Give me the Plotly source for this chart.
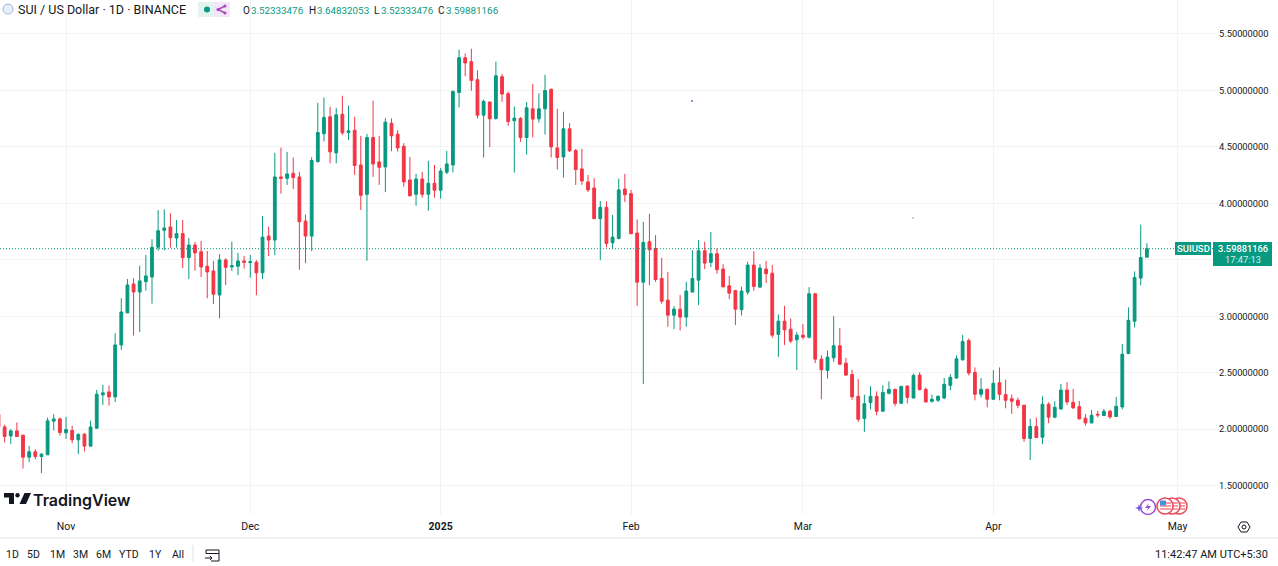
import pandas as pd
import plotly.graph_objects as go

W = 1278
H = 566

dates = pd.date_range("2024-10-21", "2025-04-26", freq="D")

open_ = [2.13,2.02,1.94,1.985,1.947,1.752,1.80,1.758,1.773,2.071,
    2.091,1.968,1.988,1.906,1.956,1.85,2.009,2.304,2.33,2.286,
    2.746,3.03,3.286,3.215,3.307,3.348,3.611,3.761,3.791,3.693,
    3.732,3.519,3.631,3.572,3.443,3.401,3.189,3.499,3.437,3.443,
    3.49,3.475,3.479,3.385,3.71,3.675,4.234,4.222,4.266,4.234,
    3.843,3.71,4.37,4.616,4.767,4.447,4.79,4.627,4.648,4.34,
    4.08,4.583,4.367,4.323,4.71,4.613,4.506,4.207,4.08,4.216,
    4.08,4.178,4.116,4.275,4.34,4.982,5.29,5.255,5.095,4.781,
    4.897,4.752,5.122,4.971,4.731,4.752,4.583,4.837,4.749,4.837,
    5.009,4.491,4.411,4.66,4.468,4.305,4.19,4.136,3.864,3.965,
    3.651,3.689,4.127,4.086,3.737,3.302,3.66,3.601,3.335,3.143,
    3.01,3.063,2.993,3.214,3.32,3.58,3.477,3.554,3.418,3.27,
    3.229,3.058,3.214,3.453,3.258,3.418,3.382,2.839,2.957,2.886,
    2.792,2.833,2.815,3.199,2.62,2.52,2.632,2.739,2.585,2.484,
    2.291,2.094,2.235,2.291,2.159,2.318,2.353,2.229,2.382,2.276,
    2.479,2.353,2.247,2.256,2.276,2.388,2.453,2.614,2.785,2.503,
    2.309,2.353,2.265,2.412,2.306,2.27,2.256,2.212,1.918,2.024,
    1.929,2.221,2.106,2.179,2.347,2.238,2.2,2.097,2.056,2.132,
    2.121,2.159,2.112,2.197,2.67,2.956,3.338,3.52333476]

high = [2.14,2.04,2.00,2.06,1.95,1.852,1.823,1.788,2.103,2.133,
    2.103,2.109,2.03,1.965,1.965,2.074,2.348,2.392,2.386,2.85,
    3.159,3.33,3.336,3.448,3.543,3.682,3.941,3.947,3.912,3.853,
    3.853,3.693,3.658,3.667,3.578,3.49,3.549,3.513,3.661,3.561,
    3.534,3.543,3.497,3.888,3.793,4.447,4.494,4.456,4.406,4.278,
    3.9,4.408,4.891,4.938,4.855,4.846,4.953,4.867,4.767,4.598,
    4.616,4.909,4.598,4.755,4.752,4.648,4.533,4.411,4.261,4.278,
    4.376,4.34,4.314,4.465,5.0,5.361,5.326,5.37,5.178,4.917,
    4.903,5.255,5.145,4.991,4.858,4.764,4.897,5.059,4.974,5.139,
    5.018,4.837,4.811,4.71,4.482,4.482,4.252,4.222,4.021,4.018,
    3.897,4.219,4.261,4.119,3.858,3.837,3.908,3.719,3.518,3.391,
    3.09,3.188,3.306,3.586,3.675,3.66,3.746,3.601,3.462,3.356,
    3.232,3.261,3.483,3.577,3.462,3.489,3.453,3.016,3.093,2.981,
    2.86,2.93,3.258,3.205,2.656,2.697,3.001,2.895,2.632,2.526,
    2.444,2.306,2.379,2.335,2.388,2.423,2.359,2.382,2.388,2.491,
    2.503,2.368,2.306,2.3,2.453,2.488,2.653,2.835,2.803,2.547,
    2.453,2.359,2.523,2.547,2.438,2.306,2.279,2.218,2.094,2.103,
    2.291,2.238,2.247,2.4,2.417,2.356,2.25,2.135,2.171,2.162,
    2.179,2.171,2.285,2.753,3.079,3.397,3.811,3.64832053]

low = [2.02,1.882,1.87,1.935,1.652,1.708,1.734,1.611,1.773,1.988,
    1.944,1.914,1.876,1.779,1.802,1.847,2.003,2.215,2.209,2.239,
    2.702,3.03,2.829,2.861,3.227,3.112,3.581,3.584,3.608,3.608,
    3.428,3.33,3.404,3.348,3.159,3.109,2.982,3.277,3.401,3.363,
    3.422,3.342,3.186,3.331,3.533,3.541,4.086,4.163,4.127,3.411,
    3.47,3.577,4.361,4.548,4.355,4.355,4.604,4.562,4.252,3.941,
    3.491,4.234,4.163,4.101,4.462,4.459,4.148,4.059,3.979,4.05,
    3.935,4.05,4.042,4.258,4.275,4.849,5.125,4.997,4.752,4.406,
    4.497,4.74,4.9,4.687,4.272,4.545,4.432,4.583,4.716,4.61,
    4.406,4.299,4.228,4.456,4.163,4.163,4.101,3.861,3.497,3.61,
    3.595,3.681,4.012,3.728,3.092,2.399,3.275,3.305,3.111,2.907,
    2.886,2.874,2.907,3.214,3.099,3.418,3.436,3.377,3.255,3.152,
    2.922,3.007,3.19,3.226,3.255,3.294,2.809,2.641,2.744,2.762,
    2.523,2.795,2.803,2.585,2.266,2.449,2.597,2.567,2.473,2.26,
    2.065,1.976,2.176,2.123,2.159,2.309,2.203,2.229,2.229,2.273,
    2.344,2.238,2.235,2.241,2.265,2.344,2.447,2.609,2.476,2.256,
    2.282,2.194,2.262,2.256,2.185,2.135,2.185,1.888,1.727,1.921,
    1.868,2.053,2.097,2.171,2.215,2.182,2.088,2.032,2.05,2.106,
    2.118,2.091,2.109,2.176,2.664,2.903,3.273,3.52333476]

close = [2.02,1.935,1.985,1.935,1.752,1.80,1.758,1.779,2.074,2.091,
    1.97,1.997,1.906,1.953,1.85,2.02,2.31,2.322,2.286,2.746,
    3.038,3.277,3.215,3.313,3.357,3.611,3.758,3.782,3.696,3.732,
    3.519,3.631,3.561,3.437,3.392,3.195,3.499,3.434,3.448,3.49,
    3.478,3.484,3.385,3.701,3.675,4.234,4.222,4.261,4.228,3.837,
    3.71,4.379,4.627,4.761,4.456,4.784,4.625,4.642,4.335,4.071,
    4.583,4.349,4.32,4.719,4.598,4.491,4.19,4.068,4.216,4.08,
    4.178,4.116,4.287,4.349,4.991,5.29,5.243,5.089,4.781,4.903,
    4.749,5.13,4.968,4.725,4.755,4.583,4.846,4.746,4.837,5.0,
    4.5,4.406,4.66,4.465,4.299,4.198,4.119,3.864,3.965,3.645,
    3.701,4.119,4.077,3.731,3.302,3.654,3.589,3.325,3.134,3.01,
    3.063,2.993,3.223,3.335,3.58,3.471,3.554,3.412,3.261,3.205,
    3.063,3.223,3.453,3.264,3.427,3.377,2.833,2.957,2.88,2.78,
    2.833,2.815,3.199,2.62,2.526,2.638,2.739,2.576,2.479,2.287,
    2.088,2.226,2.291,2.159,2.326,2.353,2.229,2.379,2.282,2.476,
    2.35,2.241,2.265,2.291,2.397,2.459,2.623,2.776,2.497,2.309,
    2.353,2.265,2.406,2.309,2.256,2.247,2.212,1.918,2.024,1.926,
    2.221,2.106,2.194,2.347,2.241,2.188,2.091,2.056,2.123,2.126,
    2.159,2.109,2.203,2.664,2.964,3.344,3.52,3.59881166]

month_ticks = ["2024-11-01", "2024-12-01", "2025-01-01", "2025-02-01", "2025-03-01", "2025-04-01", "2025-05-01"]
month_labels = ["Nov", "Dec", "<b>2025</b>", "Feb", "Mar", "Apr", "May"]
price_ticks = [1.5, 2.0, 2.5, 3.0, 3.5, 4.0, 4.5, 5.0, 5.5]
# the 3.5 label sits behind the price tag in the screenshot, only its gridline shows
price_labels = ["1.50000000", "2.00000000", "2.50000000", "3.00000000", "", "4.00000000", "4.50000000", "5.00000000", "5.50000000"]
range_buttons = ["1D", "5D", "1M", "3M", "6M", "YTD", "1Y", "All"]
button_x = [12, 33, 57, 80, 103, 129, 155, 178]

GREEN = "#089981"
RED = "#F23645"
TEXT = "#131722"
GRID = "#f2f3f5"
FONT = "Roboto"


def px(x):
    return x / W


def py(y):
    return 1 - y / H


def label(x, y, text, size=11, color=TEXT, anchor="left", weight=None, family=FONT):
    font = dict(family=family, size=size, color=color)
    if weight:
        font["weight"] = weight
    fig.add_annotation(x=px(x), y=py(y), xref="paper", yref="paper", text=text, showarrow=False,
                       xanchor=anchor, yanchor="middle", font=font, borderpad=0, borderwidth=0)


def rect(x0, y0, x1, y1, fill, line=None):
    fig.add_shape(type="rect", xref="paper", yref="paper", x0=px(x0), x1=px(x1), y0=py(y0), y1=py(y1),
                  fillcolor=fill, line=dict(width=1 if line else 0, color=line or fill))


def circle(cx, cy, r, fill="rgba(0,0,0,0)", line=None, width=1):
    fig.add_shape(type="circle", xref="paper", yref="paper", x0=px(cx - r), x1=px(cx + r), y0=py(cy - r), y1=py(cy + r),
                  fillcolor=fill, line=dict(width=width if line else 0, color=line or fill))


def poly(points, fill="rgba(0,0,0,0)", line=None, width=1, closed=True):
    d = "M" + " L".join(f"{px(a):.5f},{py(b):.5f}" for a, b in points) + (" Z" if closed else "")
    fig.add_shape(type="path", xref="paper", yref="paper", path=d, fillcolor=fill,
                  line=dict(width=width if line else 0, color=line or fill))


fig = go.Figure(go.Candlestick(x=dates, open=open_, high=high, low=low, close=close,
                               increasing=dict(line=dict(color=GREEN, width=1), fillcolor=GREEN),
                               decreasing=dict(line=dict(color=RED, width=1), fillcolor=RED),
                               showlegend=False))

fig.update_layout(width=W, height=H, margin=dict(l=0, r=0, t=0, b=0), autosize=False,
                  paper_bgcolor="white", plot_bgcolor="white", boxgap=0.35,
                  font=dict(family=FONT, color=TEXT), showlegend=False)
fig.update_xaxes(domain=[0, 1218 / W], range=["2024-10-21 06:00", "2025-05-07 14:00"],
                 rangeslider_visible=False, tickmode="array", tickvals=month_ticks, ticktext=month_labels,
                 showgrid=True, gridcolor=GRID, gridwidth=1, zeroline=False, showline=False, ticks="",
                 ticklabelstandoff=3, tickfont=dict(size=10.5, color=TEXT))
fig.update_yaxes(domain=[1 - 515 / H, 1], range=[1.24, 5.801], side="right", anchor="x",
                 tickmode="array", tickvals=price_ticks, ticktext=price_labels,
                 showgrid=True, gridcolor=GRID, gridwidth=1, zeroline=False, showline=False, ticks="",
                 tickfont=dict(size=9.3, color=TEXT))

# last price line
fig.add_shape(type="line", xref="x domain", yref="y", x0=0, x1=1, y0=close[-1], y1=close[-1],
              line=dict(color=GREEN, width=1, dash="1px,2px"))

# header
circle(8, 9, 5, fill="#e6effa", line="#9fb9e0")
label(18, 9, "SUI / US Dollar · 1D · BINANCE", size=12.5)
rect(198, 2, 230, 17, "#e3f3ef")
rect(214, 2, 230, 17, "#f3e6f6")
circle(207, 9.5, 3, fill=GREEN)
poly([(225, 6), (218, 9.5), (225, 13)], line="#ab47bc", width=1.5, closed=False)
circle(225, 6, 1.5, fill="#ab47bc")
circle(225, 13, 1.5, fill="#ab47bc")
circle(218, 9.5, 1.5, fill="#ab47bc")
for x_l, x_v, name, val in [(243, 250.5, "O", open_[-1]), (308.5, 317, "H", high[-1]),
                            (374, 381, "L", low[-1]), (438, 446, "C", close[-1])]:
    label(x_l, 10, name, size=10)
    label(x_v, 10, f"{val:.8f}", size=9.8, color=GREEN)

# price tag on the right
rect(1175, 242, 1211, 255, GREEN)
label(1193, 248.5, "SUIUSD", size=9.5, color="white", anchor="center", weight=500)
rect(1213, 242, 1272, 266, GREEN)
label(1242.5, 248, f"{close[-1]:.8f}", size=9.3, color="white", anchor="center", weight=500)
label(1242.5, 260, "17:47:13", size=9.3, color="#d5f0ea", anchor="center")

# TradingView logo
poly([(4, 493), (14, 493), (14, 504), (9, 504), (9, 497.5), (4, 497.5)], fill=TEXT)
circle(17.5, 495.2, 2.2, fill=TEXT)
poly([(24.5, 493), (31, 493), (26, 504), (19.5, 504)], fill=TEXT)
label(33, 499.5, "TradingView", size=16, weight=600, family="Inter")

# stray specks in the screenshot
circle(692, 101, 1, fill="#4a78b5")
circle(913, 218, 0.8, fill="#5ab5a0")

# bottom bar
fig.add_shape(type="line", xref="paper", yref="paper", x0=0, x1=1, y0=py(538), y1=py(538),
              line=dict(color="#e0e3eb", width=1))
for name, x in zip(range_buttons, button_x):
    label(x, 554, name, size=10.5, anchor="center")
fig.add_shape(type="line", xref="paper", yref="paper", x0=px(193), x1=px(193), y0=py(545), y1=py(562),
              line=dict(color="#e0e3eb", width=1))
poly([(206, 550), (219, 550), (219, 561), (211, 561)], line=TEXT, closed=False)
poly([(206, 553.5), (206, 550)], line=TEXT, closed=False)
poly([(206, 553.5), (219, 553.5)], line=TEXT, closed=False)
poly([(205, 558), (212, 558)], line=TEXT, closed=False)
poly([(210, 556), (212, 558), (210, 560)], line=TEXT, closed=False)
label(1268, 554, "11:42:47 AM UTC+5:30", size=11, anchor="right")

# settings gear
poly([(1238, 527), (1241, 522), (1247, 522), (1250, 527), (1247, 532), (1241, 532)], line=TEXT)
circle(1244, 527, 2, line=TEXT)

# event badges near the axis
circle(1148, 507, 7.5, fill="white", line="#9c4fd6", width=1.5)
poly([(1149, 503), (1145, 508), (1148, 508), (1147, 511), (1151, 506), (1148, 506)], fill="#9c4fd6")
poly([(1139, 504), (1140, 507), (1143, 508), (1140, 509), (1139, 512), (1138, 509), (1135, 508), (1138, 507)], fill="#6f5be0")
for cx in [1179, 1172, 1165]:
    circle(cx, 506, 8, fill="white", line="#e5495a", width=1.5)
    for yy in [503, 506, 509]:
        rect(cx - 5, yy - 0.6, cx + 6, yy + 0.6, "#f0616e")
rect(1160, 500.5, 1166, 505.5, "#4a8fdc")

fig.write_html("out.html", config=dict(displayModeBar=False, responsive=False),
               default_width=f"{W}px", default_height=f"{H}px",
               post_script="document.body.style.margin='0';document.documentElement.style.overflow='hidden';")
